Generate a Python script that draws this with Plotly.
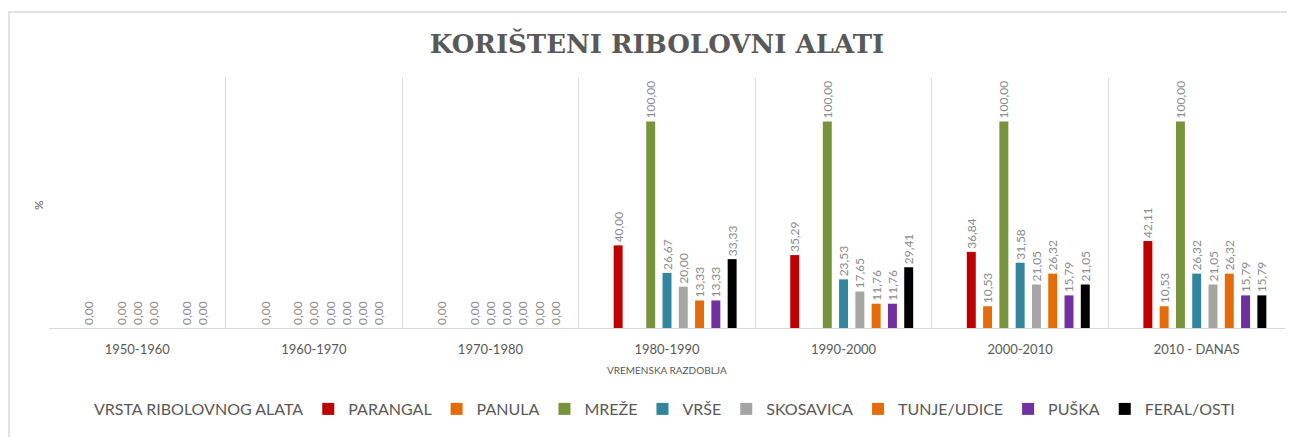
import plotly.graph_objects as go

periods = ["1950-1960", "1960-1970", "1970-1980", "1980-1990", "1990-2000", "2000-2010", "2010 - DANAS"]
series_names = ["PARANGAL", "PANULA", "MREŽE", "VRŠE", "SKOSAVICA", "TUNJE/UDICE", "PUŠKA", "FERAL/OSTI"]
parangal = [0, 0, 0, 40.00, 35.29, 36.84, 42.11]
panula = [None, None, None, None, None, 10.53, 10.53]
mreze = [0, 0, 0, 100.00, 100.00, 100.00, 100.00]
vrse = [0, 0, 0, 26.67, 23.53, 31.58, 26.32]
skosavica = [0, 0, 0, 20.00, 17.65, 21.05, 21.05]
tunje = [None, 0, 0, 13.33, 11.76, 26.32, 26.32]
puska = [0, 0, 0, 13.33, 11.76, 15.79, 15.79]
feral = [0, 0, 0, 33.33, 29.41, 21.05, 15.79]
header_name = "VRSTA RIBOLOVNOG ALATA"

values = [parangal, panula, mreze, vrse, skosavica, tunje, puska, feral]
colors = ["#C00000", "#E46C0A", "#77933C", "#31859C", "#A5A5A5", "#E46C0A", "#7030A0", "#000000"]

# page body has an 8px margin; work in screen coords and convert
OFF = 8
W, H = 1295 - OFF, 437 - OFF
# desired plot area in screen coords
L_S, R_S, T_S, B_S = 49, 1285, 78, 328
ML, MR, MT, MB = L_S - OFF, (W + OFF) - R_S, T_S - OFF, (H + OFF) - B_S
PW = W - ML - MR
PH = H - MT - MB

def px_x(x):
    return (x - L_S) / PW

def px_y(y):
    return (B_S - y) / PH

fig = go.Figure()
fig.add_trace(go.Bar(
    x=periods, y=[None] * len(periods), name=header_name,
    marker=dict(color="rgba(0,0,0,0)", line=dict(width=0)),
    hoverinfo="skip",
))
for name, vals, col in zip(series_names, values, colors):
    fig.add_trace(go.Bar(
        x=periods, y=vals, name=name,
        marker=dict(color=col, line=dict(width=0)),
        texttemplate="%{y:.2f}", textposition="outside", textangle=-90,
        constraintext="none", cliponaxis=False,
        textfont=dict(family="Lato, sans-serif", size=12, color="#8C8C8C"),
    ))

fig.update_layout(
    width=W, height=H,
    margin=dict(l=ML, r=MR, t=MT, b=MB, autoexpand=False),
    paper_bgcolor="white", plot_bgcolor="white",
    barmode="group", bargap=0.17, bargroupgap=0.45,
    separators=",.",
    title=dict(text="<b>KORIŠTENI RIBOLOVNI ALATI</b>", x=(657 - OFF) / W, xanchor="center",
               y=1 - (44 - OFF) / H, yanchor="middle",
               font=dict(family="DejaVu Serif, serif", size=26, color="#595959")),
    showlegend=True,
    legend=dict(orientation="h", x=px_x(647), xanchor="center", y=px_y(409), yanchor="middle",
                font=dict(family="Liberation Sans Narrow, Lato, sans-serif", size=16, color="#595959"),
                traceorder="normal", bgcolor="rgba(0,0,0,0)"),
    xaxis=dict(type="category", tickson="boundaries", showgrid=True, gridcolor="#D9D9D9", gridwidth=1,
               showline=True, linecolor="#D9D9D9", linewidth=1, ticks="",
               tickfont=dict(family="Lato, sans-serif", size=13, color="#595959"),
               ticklabelstandoff=9, zeroline=False),
    yaxis=dict(range=[0, 121], showgrid=False, showticklabels=False, zeroline=False, showline=False),
    font=dict(family="Lato, sans-serif", color="#595959"),
)

fig.add_annotation(text="VREMENSKA RAZDOBLJA", xref="paper", yref="paper",
                   x=px_x(667), y=px_y(370), xanchor="center", yanchor="middle", showarrow=False,
                   font=dict(family="Lato, sans-serif", size=10, color="#595959"))
fig.add_annotation(text="%", xref="paper", yref="paper", textangle=-90,
                   x=px_x(38), y=px_y(205), xanchor="center", yanchor="middle", showarrow=False,
                   font=dict(family="Lato, sans-serif", size=12, color="#595959"))
fig.add_shape(type="rect", xref="paper", yref="paper",
              x0=px_x(OFF + 1), x1=px_x(1310), y0=px_y(460), y1=px_y(12),
              line=dict(color="#D9D9D9", width=1.5), fillcolor="rgba(0,0,0,0)", layer="below")

fig.write_html("out.html")
